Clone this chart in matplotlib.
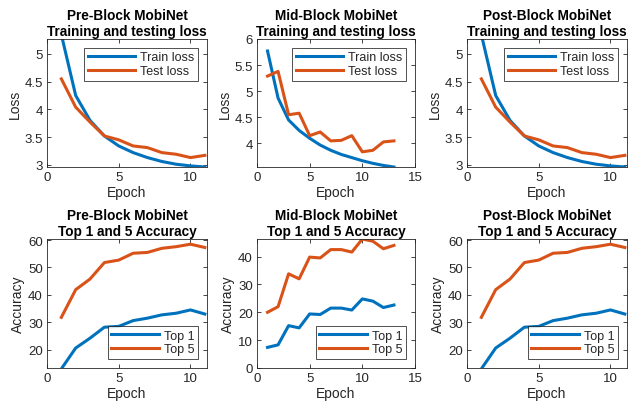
import matplotlib
matplotlib.use("Agg")
import matplotlib.pyplot as plt
from matplotlib.ticker import FuncFormatter

plt.rcParams['font.family'] = ['Liberation Sans', 'DejaVu Sans']

BLUE = '#0072BD'
ORANGE = '#D95319'
TXT = '#262626'

# ---- data ----
epochs_pre = list(range(1, 12))
train_loss_pre = [5.35, 4.25, 3.80, 3.52, 3.34, 3.22, 3.13, 3.06, 3.01, 2.98, 2.96]
test_loss_pre = [4.55, 4.04, 3.77, 3.52, 3.45, 3.34, 3.31, 3.22, 3.19, 3.13, 3.17]
top1_pre = [13.0, 20.6, 24.2, 28.2, 28.5, 30.6, 31.5, 32.7, 33.3, 34.5, 33.0]
top5_pre = [31.8, 41.9, 45.8, 51.8, 52.7, 55.2, 55.5, 57.0, 57.6, 58.5, 57.3]

epochs_mid = list(range(1, 14))
train_loss_mid = [5.77, 4.87, 4.45, 4.25, 4.10, 3.97, 3.87, 3.79, 3.73, 3.67, 3.62, 3.58, 3.55]
test_loss_mid = [5.29, 5.38, 4.55, 4.58, 4.15, 4.22, 4.05, 4.06, 4.15, 3.84, 3.87, 4.03, 4.05]
top1_mid = [7.4, 8.3, 15.2, 14.4, 19.4, 19.2, 21.5, 21.5, 20.8, 24.8, 24.0, 21.7, 22.6]
top5_mid = [20.0, 22.0, 33.8, 32.0, 39.8, 39.5, 42.5, 42.5, 41.6, 46.3, 45.5, 42.8, 44.0]

# post-block identical to pre-block in the figure
epochs_post = epochs_pre
train_loss_post = train_loss_pre
test_loss_post = test_loss_pre
top1_post = top1_pre
top5_post = top5_pre

W, H = 629, 406
fig = plt.figure(figsize=(W / 100, H / 100), dpi=100)

def add_ax(l, r, t, b):
    return fig.add_axes([l / W, 1 - b / H, (r - l) / W, (b - t) / H])

fmt = FuncFormatter(lambda v, p: f"{v:g}")

def style(ax, title, ylabel, xlim, ylim, xticks, yticks):
    ax.set_xlim(*xlim)
    ax.set_ylim(*ylim)
    ax.set_xticks(xticks)
    ax.set_yticks(yticks)
    ax.xaxis.set_major_formatter(fmt)
    ax.yaxis.set_major_formatter(fmt)
    ax.tick_params(direction='in', top=True, right=True, length=3, width=0.6,
                   labelsize=9.5, colors=TXT, pad=3)
    for s in ax.spines.values():
        s.set_linewidth(0.6)
        s.set_color(TXT)
    ax.set_title(title, fontsize=9.8, fontweight='bold', color='black', pad=3, linespacing=1.15)
    ax.set_xlabel('Epoch', fontsize=10, color=TXT, labelpad=1)
    ax.set_ylabel(ylabel, fontsize=10, color=TXT, labelpad=2)

def legend(ax, labels, loc):
    lg = ax.legend(labels, loc=loc, fontsize=9, frameon=True, fancybox=False,
                   edgecolor='black', handlelength=3.8, borderpad=0.3, labelspacing=0.15,
                   handletextpad=0.4, borderaxespad=0.7)
    lg.get_frame().set_linewidth(0.6)
    for t in lg.get_texts():
        t.set_color(TXT)

cols = [(47, 207), (257, 415), (467, 627)]
names = ['Pre-Block MobiNet', 'Mid-Block MobiNet', 'Post-Block MobiNet']
loss_data = [(epochs_pre, train_loss_pre, test_loss_pre),
             (epochs_mid, train_loss_mid, test_loss_mid),
             (epochs_post, train_loss_post, test_loss_post)]
acc_data = [(epochs_pre, top1_pre, top5_pre),
            (epochs_mid, top1_mid, top5_mid),
            (epochs_post, top1_post, top5_post)]

for i, ((l, r), name) in enumerate(zip(cols, names)):
    ax = add_ax(l, r, 40, 168)
    ep, tr, te = loss_data[i]
    ax.plot(ep, tr, color=BLUE, lw=2.2)
    ax.plot(ep, te, color=ORANGE, lw=2.2)
    if i == 1:
        style(ax, name + '\nTraining and testing loss', 'Loss', (0, 15), (3.55, 6.0),
              [0, 5, 10, 15], [4, 4.5, 5, 5.5, 6])
    else:
        style(ax, name + '\nTraining and testing loss', 'Loss', (0, 11.15), (2.96, 5.27),
              [0, 5, 10], [3, 3.5, 4, 4.5, 5])
    legend(ax, ['Train loss', 'Test loss'], 'upper right')

    ax = add_ax(l, r, 240, 369)
    ep, t1, t5 = acc_data[i]
    ax.plot(ep, t1, color=BLUE, lw=2.2)
    ax.plot(ep, t5, color=ORANGE, lw=2.2)
    if i == 1:
        style(ax, name + '\nTop 1 and 5 Accuracy', 'Accuracy', (0, 15), (0, 46.3),
              [0, 5, 10, 15], [0, 10, 20, 30, 40])
    else:
        style(ax, name + '\nTop 1 and 5 Accuracy', 'Accuracy', (0, 11.15), (13.3, 60.4),
              [0, 5, 10], [20, 30, 40, 50, 60])
    legend(ax, ['Top 1', 'Top 5'], 'lower right')

fig.savefig('out.png', dpi=100, facecolor='white')
